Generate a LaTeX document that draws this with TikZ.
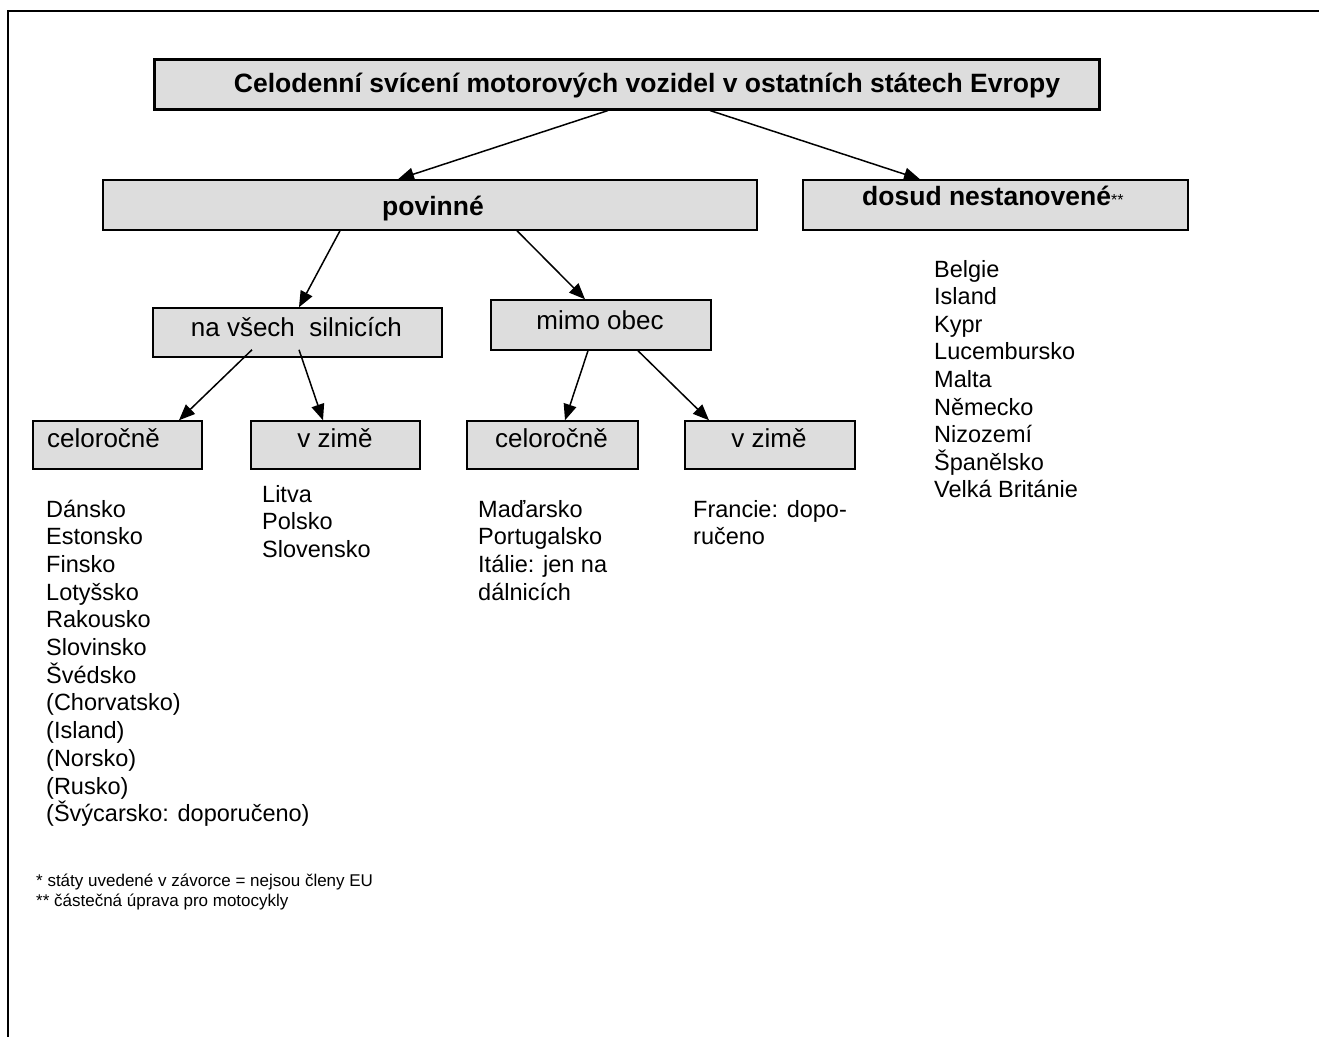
\documentclass[tikz,border=0pt]{standalone}
\usepackage{fontspec}
\setmainfont{Liberation Sans}
\usetikzlibrary{arrows.meta}
\definecolor{boxgray}{HTML}{DDDDDD}
\tikzset{
  box/.style={draw, fill=boxgray, line width=1.5pt, inner sep=0pt},
  arr/.style={-{Triangle[length=16pt,width=13pt]}, line width=1.5pt},
  lbl/.style={font=\fontsize{26}{30}\selectfont, inner sep=0pt, anchor=base},
  blbl/.style={font=\fontsize{26.5}{30}\selectfont\bfseries, inner sep=0pt, anchor=base},
  lst/.style={font=\fontsize{23.5}{27.7}\selectfont, inner sep=0pt, anchor=base west},
  fn/.style={font=\fontsize{17}{20}\selectfont, inner sep=0pt, anchor=base west},
}
\begin{document}
\begin{tikzpicture}[x=1pt,y=-1pt]
\useasboundingbox (0,0) rectangle (1319,1037);
% outer frame
\draw[line width=2pt] (1319,11) -- (8,11) -- (8,1037);
% boxes
\node[box, line width=3pt, minimum width=945pt, minimum height=50pt] (title) at (626.5,84) {};
\node[box, minimum width=654pt, minimum height=50pt] (pov) at (430,205) {};
\node[box, minimum width=385pt, minimum height=50pt] (dos) at (995.5,205) {};
\node[box, minimum width=289pt, minimum height=49pt] (na) at (297.5,332.5) {};
\node[box, minimum width=220pt, minimum height=50pt] (mimo) at (601,325) {};
\node[box, minimum width=169pt, minimum height=48pt] (cel1) at (117.5,445) {};
\node[box, minimum width=169pt, minimum height=48pt] (zim1) at (335.5,445) {};
\node[box, minimum width=171pt, minimum height=48pt] (cel2) at (552.5,445) {};
\node[box, minimum width=170pt, minimum height=48pt] (zim2) at (770,445) {};
% box labels
\node[blbl] (titlet) at (647,92) {Celodenní svícení motorových vozidel v ostatních státech Evropy};
\node[blbl] (povt) at (433,215) {povinné};
\node[blbl, anchor=base west] (dost) at (862,205) {dosud nestanovené{\mdseries\fontsize{16}{18}\selectfont **}};
\node[lbl, anchor=base west] (nat) at (190.7,336) {na všech\ \ silnicích};
\node[lbl] (mimot) at (600,329) {mimo obec};
\node[lbl, anchor=base west] (cel1t) at (47,447) {celoročně};
\node[lbl] (zim1t) at (335,447) {v zimě};
\node[lbl] (cel2t) at (551.5,447) {celoročně};
\node[lbl] (zim2t) at (769,447) {v zimě};
% arrows
\draw[arr] ([xshift=-18.5pt]title.south) -- ([xshift=-32pt]pov.north);
\draw[arr] ([xshift=83.5pt]title.south) -- ([xshift=-75.5pt]dos.north);
\draw[arr] ([xshift=-90pt]pov.south) -- ([xshift=1.5pt]na.north);
\draw[arr] ([xshift=87pt]pov.south) -- ([xshift=-16pt]mimo.north);
\draw[arr] ([xshift=-45.5pt,yshift=8pt]na.south) -- ([xshift=61.5pt]cel1.north);
\draw[arr] ([xshift=1.5pt,yshift=8pt]na.south) -- ([xshift=-12.5pt]zim1.north);
\draw[arr] ([xshift=-13pt]mimo.south) -- ([xshift=12.5pt]cel2.north);
\draw[arr] ([xshift=37pt]mimo.south) -- ([xshift=-61pt]zim2.north);
% lists
\foreach \t [count=\i] in {Dánsko,Estonsko,Finsko,Lotyšsko,Rakousko,Slovinsko,Švédsko,{(Chorvatsko)},{(Island)},{(Norsko)},{(Rusko)},{(Švýcarsko: doporučeno)}}
  \node[lst] (la-\i) at (46,{517+27.7*(\i-1)}) {\t};
\foreach \t [count=\i] in {Litva,Polsko,Slovensko}
  \node[lst] (lb-\i) at (262,{502+27.7*(\i-1)}) {\t};
\foreach \t [count=\i] in {Maďarsko,Portugalsko,Itálie: jen na,dálnicích}
  \node[lst] (lc-\i) at (478,{517+27.7*(\i-1)}) {\t};
\foreach \t [count=\i] in {Francie: dopo-,ručeno}
  \node[lst] (ld-\i) at (693,{517+27.7*(\i-1)}) {\t};
\foreach \t [count=\i] in {Belgie,Island,Kypr,Lucembursko,Malta,Německo,Nizozemí,Španělsko,Velká Británie}
  \node[lst] (le-\i) at (934,{277+27.6*(\i-1)}) {\t};
% footnotes
\node[fn] (fn1) at (36,886) {* státy uvedené v závorce = nejsou členy EU};
\node[fn] (fn2) at (36,906) {** částečná úprava pro motocykly};
\end{tikzpicture}
\end{document}
